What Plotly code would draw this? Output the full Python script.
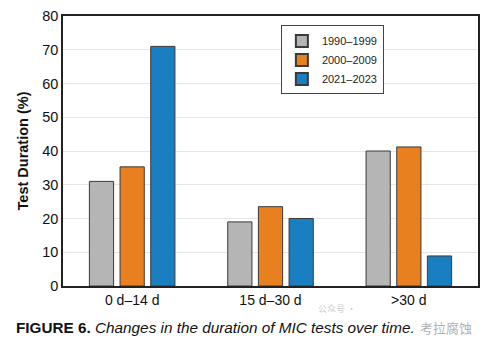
import plotly.graph_objects as go

categories = ["0 d–14 d", "15 d–30 d", ">30 d"]
series_names = ["1990–1999", "2000–2009", "2021–2023"]
s1990 = [31, 19, 40]
s2000 = [35.3, 23.5, 41.2]
s2021 = [71, 20, 8.9]
colors = ["#b5b5b5", "#e8801f", "#1a7fc1"]
y_ticks = [0, 10, 20, 30, 40, 50, 60, 70, 80]

fig = go.Figure()
for name, vals, c in zip(series_names, [s1990, s2000, s2021], colors):
    fig.add_trace(go.Bar(x=categories, y=vals, name=name, marker=dict(color=c, line=dict(color="#3a3a3a", width=1))))

font_family = "Liberation Sans, Arial, sans-serif"
fig.update_layout(
    width=488, height=346,
    margin=dict(l=63, r=8, t=16, b=60),
    paper_bgcolor="white", plot_bgcolor="white",
    barmode="group", bargap=0.335, bargroupgap=0.21,
    font=dict(family=font_family, size=14, color="#111"),
    showlegend=True,
    legend=dict(x=0.525, y=0.965, xanchor="left", yanchor="top",
                bordercolor="#444", borderwidth=1, bgcolor="white",
                font=dict(size=11, color="#222"), tracegroupgap=0,
                itemwidth=30, itemsizing="constant"),
    xaxis=dict(showline=True, linecolor="#222", linewidth=1.5, mirror=True,
               ticks="", tickfont=dict(size=14), range=[-0.5, 2.5]),
    yaxis=dict(range=[0, 80], tickvals=y_ticks, showline=True, linecolor="#222",
               linewidth=1.5, mirror=True, gridcolor="#e6e6e6", gridwidth=1,
               ticks="", tickfont=dict(size=14.5), zeroline=False,
               title=dict(text="<b>Test Duration (%)</b>", font=dict(size=14.5), standoff=10)),
    annotations=[
        dict(xref="paper", yref="paper", x=-0.118, y=-0.152, xanchor="left", yanchor="middle",
             text="<b>FIGURE 6.</b> <i>Changes in the duration of MIC tests over time.</i>",
             showarrow=False, font=dict(size=15.3, color="#111")),
        dict(xref="paper", yref="paper", x=0.855, y=-0.152, xanchor="left", yanchor="middle",
             text="考拉腐蚀", showarrow=False,
             font=dict(size=13, color="rgba(140,140,140,0.7)", family="Noto Sans CJK SC")),
        dict(xref="paper", yref="paper", x=0.66, y=-0.085, xanchor="center", yanchor="middle",
             text="公众号 ·", showarrow=False,
             font=dict(size=9, color="rgba(160,160,160,0.55)", family="Noto Sans CJK SC")),
    ],
)
fig.write_html("out.html")
